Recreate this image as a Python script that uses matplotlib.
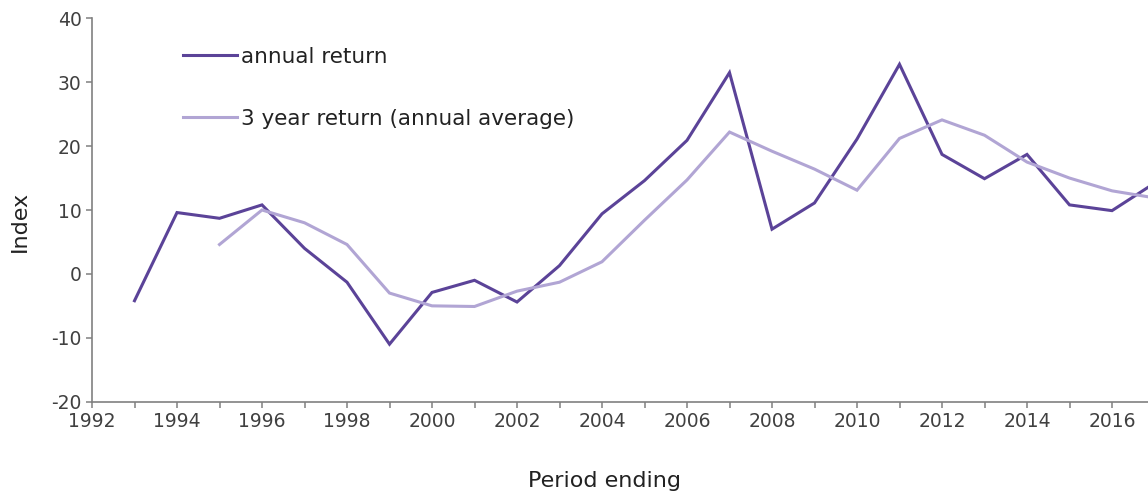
import numpy as np
import matplotlib.pyplot as plt
from matplotlib.ticker import MultipleLocator


years = np.arange(1993, 2018)
annual_return = [-4.2, 9.6, 8.7, 10.8, 4.0, -1.3, -11.0, -2.9, -1.0, -4.4,
                 1.3, 9.4, 14.6, 20.9, 31.5, 7.0, 11.1, 21.1, 32.8, 18.7,
                 14.9, 18.7, 10.8, 9.9, 14.2]

years_3yr = np.arange(1995, 2018)
three_year_return = [4.6, 10.0, 8.0, 4.6, -3.0, -5.0, -5.1, -2.7, -1.3, 1.9,
                     8.4, 14.7, 22.2, 19.2, 16.4, 13.1, 21.2, 24.1, 21.7,
                     17.5, 15.0, 13.0, 11.9]

dark = '#5b4398'
light = '#b1a5d4'
grey = '#808080'
text_col = '#404040'

plt.rcParams['axes.unicode_minus'] = False

W, H = 1148, 501
fig = plt.figure(figsize=(W / 100, H / 100), dpi=100)
# the axis runs past the right edge of the picture, as in the original
left, right, top, bottom = 92, 1154.5, 18.3, 401.7
ax = fig.add_axes([left / W, 1 - bottom / H, (right - left) / W, (bottom - top) / H])

ax.plot(years, annual_return, color=dark, lw=2.2, label='annual return', solid_joinstyle='miter')
ax.plot(years_3yr, three_year_return, color=light, lw=2.2, label='3 year return (annual average)',
        solid_joinstyle='miter')

ax.set_xlim(1992, 2017)
ax.set_ylim(-20, 40)
ax.xaxis.set_major_locator(MultipleLocator(2))
ax.xaxis.set_minor_locator(MultipleLocator(1))
ax.yaxis.set_major_locator(MultipleLocator(10))

for side in ['top', 'right']:
    ax.spines[side].set_visible(False)
for side in ['left', 'bottom']:
    ax.spines[side].set_color(grey)
    ax.spines[side].set_linewidth(1.2)

ax.tick_params(axis='both', which='both', direction='out', length=4.5, width=1.1,
               color=grey, labelcolor=text_col, labelsize=13.5, pad=3)

fig.text(20 / W, 1 - 221 / H, 'Index', rotation=90, ha='center', va='center',
         fontsize=16, color='#222222')
fig.text(604 / W, 1 - 481 / H, 'Period ending', ha='center', va='center',
         fontsize=16, color='#222222')

ax.legend(loc='upper left', bbox_to_anchor=(183 / W, 1 - 47 / H), bbox_transform=fig.transFigure,
          frameon=False, fontsize=15.5, handlelength=2.5, handletextpad=0.2,
          labelspacing=1.95, borderpad=0, borderaxespad=0, labelcolor='#222222')

fig.savefig('out.png', dpi=100)
